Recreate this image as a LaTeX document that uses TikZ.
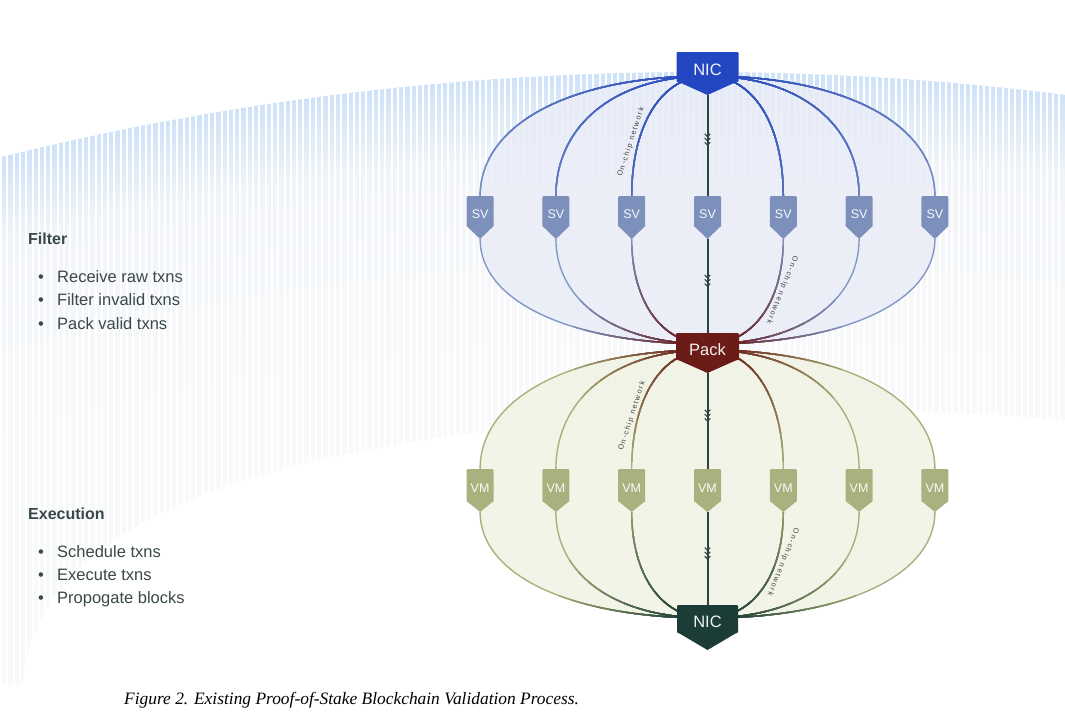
\documentclass[tikz,border=0pt]{standalone}
\usepackage{fontspec}
\setmainfont{Liberation Sans}
\newfontfamily\capfont{Liberation Serif}
\newfontfamily\netfont[LetterSpace=20]{Liberation Sans}
\usetikzlibrary{calc}
\definecolor{nicblue}{HTML}{2347C0}
\definecolor{svc}{HTML}{7D90BC}
\definecolor{packc}{HTML}{6B1C18}
\definecolor{vmc}{HTML}{A9B27F}
\definecolor{nicgreen}{HTML}{1C3D37}
\definecolor{spinec}{HTML}{2A463E}
\definecolor{txtc}{HTML}{3B4848}
\definecolor{stripeblue}{HTML}{CFE3F8}
\definecolor{stripegrey}{HTML}{F2F5F8}
\definecolor{stripelight}{HTML}{F8F9FA}
\definecolor{g1far}{HTML}{7F95C6}
\definecolor{g1hub}{HTML}{2A4DBF}
\definecolor{g2far}{HTML}{8298C6}
\definecolor{g3far}{HTML}{A8B07C}
\definecolor{upfillc}{HTML}{E9ECF7}
\definecolor{lowfillc}{HTML}{F1F3E6}
\pgfdeclarelayer{back}
\pgfdeclarelayer{bg}
\pgfsetlayers{back,bg,main}
\def\cf{0.6}
\tikzset{
  tagtext/.style={text=white,text opacity=0.93,inner sep=0pt},
  curve/.style={line width=1.4pt},
  spine/.style={line width=2pt,draw=spinec},
  chevron/.style={line width=1.1pt,draw=spinec},
  bodytext/.style={anchor=base west,inner sep=0pt,text=txtc,font=\fontsize{16.5}{18}\selectfont},
  headtext/.style={anchor=base west,inner sep=0pt,text=txtc,font=\bfseries\fontsize{16}{18}\selectfont},
  netlabel/.style={inner sep=0pt,text=black!75,font=\netfont\fontsize{7.3}{8}\selectfont},
}
\newcommand\tagbox[9]{%
  \node[anchor=north,minimum width=#4pt,minimum height=#5pt,inner sep=0pt,outer sep=0pt,fill=#7,rounded corners=1.2pt] (#1) at (#2,#3) {};
  \coordinate (#1-tip) at ($(#1.south)+(0,#6)$);
  \fill[#7] ([yshift=1pt]#1.south west) -- (#1-tip) -- ([yshift=1pt]#1.south east) -- cycle;
  \node[tagtext,font=\fontsize{#8}{#8}\selectfont] (#1-l) at ($(#1.center)+(0,3)$) {#9};
}
\newcommand\chev[3]{%
  \coordinate (#3) at ($(#1)!0.4!(#2)$);
  \foreach \k in {0,1,2}{\draw[chevron] ($(#3)+(-2.8,4.3*\k-1.6)$) -- ($(#3)+(0,4.3*\k+1.2)$) -- ($(#3)+(2.8,4.3*\k-1.6)$);}
}
% group curve drawers
\newcommand\groupA[1]{\foreach \s in {1,2,3,5,6,7}{\draw[curve,#1] (h1) .. controls ($(h1)!\cf!(ca\s)$) and ($(sv\s.north)!\cf!(ca\s)$) .. (sv\s.north);}}
\newcommand\groupB[1]{\foreach \s in {1,2,3,5,6,7}{\draw[curve,#1] (sv\s-tip) .. controls ($(sv\s-tip)!\cf!(cb\s)$) and ($(h2)!\cf!(cb\s)$) .. (h2);}}
\newcommand\groupC[1]{\foreach \s in {1,2,3,5,6,7}{\draw[curve,#1] (h3) .. controls ($(h3)!\cf!(cc\s)$) and ($(vm\s.north)!\cf!(cc\s)$) .. (vm\s.north);}}
\newcommand\groupD[1]{\foreach \s in {1,2,3,5,6,7}{\draw[curve,#1] (vm\s-tip) .. controls ($(vm\s-tip)!\cf!(cd\s)$) and ($(h4)!\cf!(cd\s)$) .. (h4);}}
\begin{document}
\begin{tikzpicture}[x=1pt,y=-1pt]
\useasboundingbox (0,0) rectangle (1065,720);
% ---------- nodes ----------
\tagbox{nic1}{707.5}{52}{62}{30}{13}{nicblue}{16.5}{NIC}
\foreach \s/\x in {1/480.1,2/555.9,3/631.7,4/707.5,5/783.3,6/859.1,7/934.9}{
  \tagbox{sv\s}{\x}{196}{27}{31}{12}{svc}{12.5}{SV}
  \tagbox{vm\s}{\x}{469}{27}{33}{10}{vmc}{12.5}{VM}
}
\tagbox{pack}{707.5}{333}{63}{27}{13}{packc}{16.5}{Pack}
\tagbox{nic2}{707.5}{605}{61}{28}{17}{nicgreen}{16.5}{NIC}
% hubs
\coordinate (h1) at (707.5,76);
\coordinate (h2) at (707.5,344);
\coordinate (h3) at (707.5,350);
\coordinate (h4) at (707.5,618);
\foreach \s in {1,...,7}{
  \coordinate (ca\s) at (h1-|sv\s.north);
  \coordinate (cb\s) at (sv\s-tip|-h2);
  \coordinate (cc\s) at (h3-|vm\s.north);
  \coordinate (cd\s) at (vm\s-tip|-h4);
}
% ---------- background ----------
\begin{pgfonlayer}{back}
\begin{scope}
  \clip (0,0) rectangle (1065,684);
  \clip (700,2964) circle (2892);
  \foreach \k in {0,...,16}{
    \pgfmathtruncatemacro\p{100-6*\k}
    \fill[stripeblue!\p!stripegrey] (700,2964) circle ({2892-5*\k});
  }
  \foreach \k in {0,...,10}{
    \pgfmathtruncatemacro\p{100-10*\k}
    \fill[stripegrey!\p!stripelight] (700,2964) circle ({2807-20*\k});
  }
  \foreach \i in {0,...,170}{\fill[white] (\i*6.3,0) rectangle ++(2,700);}
  \fill[white] (22,690) .. controls (30,560) and (160,470) .. (500,430) .. controls (760,400) and (950,410) .. (1065,420) -- (1065,690) -- cycle;
\end{scope}
\end{pgfonlayer}
% ---------- fills and curves ----------
\begin{pgfonlayer}{bg}
\fill[upfillc,fill opacity=0.8] (h1) .. controls ($(h1)!\cf!(ca1)$) and ($(sv1.north)!\cf!(ca1)$) .. (sv1.north) -- (sv1-tip)
  .. controls ($(sv1-tip)!\cf!(cb1)$) and ($(h2)!\cf!(cb1)$) .. (h2)
  .. controls ($(h2)!\cf!(cb7)$) and ($(sv7-tip)!\cf!(cb7)$) .. (sv7-tip) -- (sv7.north)
  .. controls ($(sv7.north)!\cf!(ca7)$) and ($(h1)!\cf!(ca7)$) .. (h1) -- cycle;
\fill[lowfillc,fill opacity=0.9] (h3) .. controls ($(h3)!\cf!(cc1)$) and ($(vm1.north)!\cf!(cc1)$) .. (vm1.north) -- (vm1-tip)
  .. controls ($(vm1-tip)!\cf!(cd1)$) and ($(h4)!\cf!(cd1)$) .. (h4)
  .. controls ($(h4)!\cf!(cd7)$) and ($(vm7-tip)!\cf!(cd7)$) .. (vm7-tip) -- (vm7.north)
  .. controls ($(vm7.north)!\cf!(cc7)$) and ($(h3)!\cf!(cc7)$) .. (h3) -- cycle;
% group A (NIC -> SV)
\groupA{draw=g1far}
\foreach \k in {1,...,10}{
  \pgfmathtruncatemacro\p{10*\k}
  \begin{scope}\clip (h1) circle ({260-24*(\k-1)}); \groupA{draw=g1hub!\p!g1far}\end{scope}
}
% group B (SV -> Pack)
\groupB{draw=g2far}
\foreach \k in {1,...,10}{
  \pgfmathtruncatemacro\p{10*\k}
  \begin{scope}\clip (h2) circle ({135-12*(\k-1)}); \groupB{draw=packc!\p!g2far}\end{scope}
}
% group C (Pack -> VM)
\groupC{draw=g3far}
\foreach \k in {1,...,10}{
  \pgfmathtruncatemacro\p{10*\k}
  \begin{scope}\clip (h3) circle ({135-12*(\k-1)}); \groupC{draw=packc!\p!g3far}\end{scope}
}
% group D (VM -> NIC)
\groupD{draw=g3far}
\foreach \k in {1,...,10}{
  \pgfmathtruncatemacro\p{10*\k}
  \begin{scope}\clip (h4) circle ({150-13*(\k-1)}); \groupD{draw=nicgreen!\p!g3far}\end{scope}
}
% spine
\draw[spine] (nic1-tip) -- (sv4.north);
\draw[spine] (sv4-tip) -- (pack.north);
\draw[spine] (pack-tip) -- (vm4.north);
\draw[spine] (vm4-tip) -- (nic2.north);
\end{pgfonlayer}
\chev{nic1-tip}{sv4.north}{ch1}
\chev{sv4-tip}{pack.north}{ch2}
\chev{pack-tip}{vm4.north}{ch3}
\chev{vm4-tip}{nic2.north}{ch4}
% network labels
\node[netlabel,rotate=72] (net1) at (631,142) {On-chip network};
\node[netlabel,rotate=-112] (net2) at (782,290) {On-chip network};
\node[netlabel,rotate=72] (net3) at (632,416) {On-chip network};
\node[netlabel,rotate=-112] (net4) at (783,562) {On-chip network};
% ---------- left text ----------
\node[headtext] (filt) at (28,244) {Filter};
\node[bodytext] (b1) at (38,282.5) {•};
\node[bodytext] (t1) at (57,282.5) {Receive raw txns};
\node[bodytext] (b2) at (38,305.8) {•};
\node[bodytext] (t2) at (57,305.8) {Filter invalid txns};
\node[bodytext] (b3) at (38,329.1) {•};
\node[bodytext] (t3) at (57,329.1) {Pack valid txns};
\node[headtext] (exec) at (28,519.3) {Execution};
\node[bodytext] (b4) at (38,557.5) {•};
\node[bodytext] (t4) at (57,557.5) {Schedule txns};
\node[bodytext] (b5) at (38,580.5) {•};
\node[bodytext] (t5) at (57,580.5) {Execute txns};
\node[bodytext] (b6) at (38,603.5) {•};
\node[bodytext] (t6) at (57,603.5) {Propogate blocks};
% caption
\node[anchor=base west,inner sep=0pt,font=\capfont\itshape\fontsize{17.4}{19}\selectfont] (cap) at (124,704) {Figure 2. Existing Proof-of-Stake Blockchain Validation Process.};
\end{tikzpicture}
\end{document}
